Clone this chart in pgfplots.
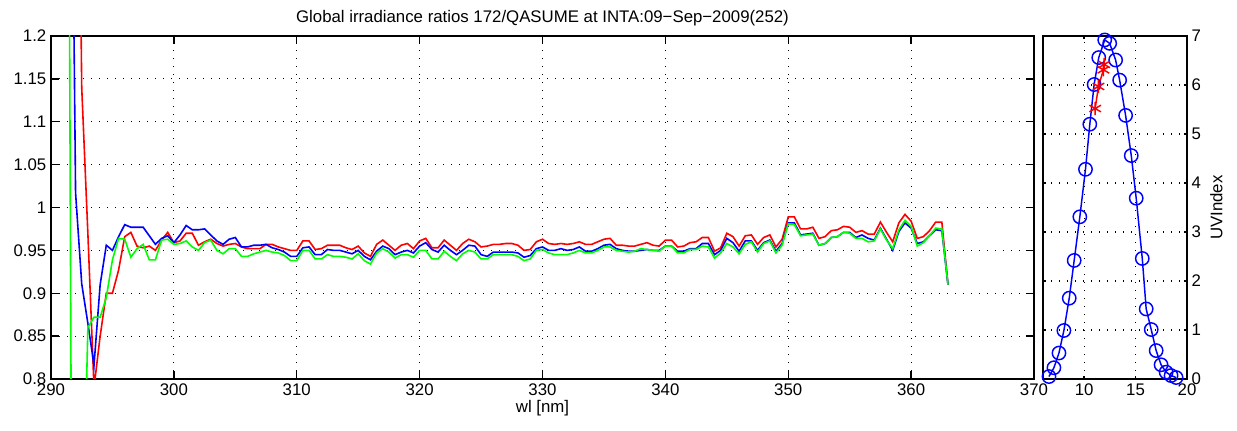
\documentclass[border=0pt]{standalone}
\usepackage{fontspec}
\setmainfont{Liberation Sans}
\usepackage{pgfplots}
\usepackage{pgfplotstable}
\pgfplotsset{compat=1.18}

\pgfplotstableread{
wl r b g
290 2.5 2.5 2.5
290.5 2.5 2.5 2.5
291 2.4 2.4 2.5
291.5 2.0 1.74 1.25
292 1.8 1.017 -0.5
292.5 1.14 0.911 0.55
293 0.97 0.865 0.86
293.5 0.79 0.816 0.872
294 0.85 0.910 0.872
294.5 0.900 0.956 0.895
295 0.900 0.950 0.939
295.5 0.927 0.966 0.964
296 0.966 0.980 0.963
296.5 0.971 0.977 0.942
297 0.955 0.977 0.952
297.5 0.953 0.977 0.957
298 0.955 0.967 0.939
298.5 0.950 0.957 0.939
299 0.962 0.964 0.962
299.5 0.971 0.967 0.963
300 0.959 0.959 0.957
300.5 0.961 0.968 0.958
301 0.970 0.979 0.961
301.5 0.970 0.974 0.954
302 0.956 0.974 0.950
302.5 0.960 0.975 0.959
303 0.963 0.968 0.962
303.5 0.958 0.961 0.950
304 0.955 0.957 0.946
304.5 0.957 0.963 0.952
305 0.958 0.965 0.952
305.5 0.954 0.954 0.943
306 0.952 0.954 0.943
306.5 0.952 0.956 0.946
307 0.952 0.956 0.948
307.5 0.957 0.957 0.950
308 0.957 0.953 0.948
308.5 0.954 0.951 0.947
309 0.952 0.948 0.944
309.5 0.950 0.943 0.938
310 0.950 0.943 0.938
310.5 0.961 0.953 0.950
311 0.961 0.954 0.950
311.5 0.951 0.945 0.940
312 0.952 0.945 0.940
312.5 0.956 0.951 0.945
313 0.956 0.950 0.943
313.5 0.956 0.950 0.943
314 0.953 0.948 0.942
314.5 0.951 0.946 0.940
315 0.955 0.950 0.946
315.5 0.947 0.943 0.938
316 0.943 0.939 0.934
316.5 0.957 0.949 0.947
317 0.962 0.955 0.952
317.5 0.956 0.952 0.948
318 0.950 0.945 0.941
318.5 0.956 0.948 0.945
319 0.958 0.950 0.945
319.5 0.952 0.947 0.942
320 0.961 0.955 0.950
320.5 0.964 0.959 0.950
321 0.953 0.951 0.940
321.5 0.953 0.948 0.940
322 0.962 0.956 0.949
322.5 0.956 0.950 0.943
323 0.950 0.945 0.938
323.5 0.958 0.950 0.946
324 0.963 0.956 0.950
324.5 0.960 0.955 0.948
325 0.954 0.945 0.940
325.5 0.955 0.943 0.940
326 0.957 0.948 0.945
326.5 0.957 0.948 0.945
327 0.958 0.948 0.945
327.5 0.958 0.948 0.945
328 0.956 0.947 0.943
328.5 0.950 0.942 0.938
329 0.951 0.944 0.940
329.5 0.960 0.952 0.950
330 0.963 0.954 0.951
330.5 0.958 0.950 0.947
331 0.957 0.950 0.945
331.5 0.958 0.952 0.945
332 0.957 0.950 0.945
332.5 0.958 0.951 0.947
333 0.960 0.954 0.950
333.5 0.957 0.949 0.947
334 0.957 0.949 0.947
334.5 0.960 0.952 0.950
335 0.963 0.956 0.954
335.5 0.964 0.957 0.954
336 0.956 0.952 0.950
336.5 0.956 0.950 0.949
337 0.955 0.949 0.948
337.5 0.955 0.949 0.949
338 0.957 0.950 0.952
338.5 0.959 0.951 0.951
339 0.956 0.950 0.950
339.5 0.955 0.950 0.949
340 0.962 0.955 0.955
340.5 0.962 0.955 0.955
341 0.954 0.949 0.947
341.5 0.955 0.949 0.947
342 0.959 0.952 0.951
342.5 0.960 0.952 0.951
343 0.965 0.958 0.955
343.5 0.965 0.958 0.954
344 0.949 0.945 0.941
344.5 0.953 0.950 0.947
345 0.970 0.964 0.958
345.5 0.966 0.959 0.954
346 0.955 0.949 0.946
346.5 0.967 0.961 0.957
347 0.968 0.961 0.960
347.5 0.957 0.950 0.948
348 0.965 0.959 0.958
348.5 0.968 0.962 0.961
349 0.954 0.949 0.947
349.5 0.963 0.958 0.956
350 0.989 0.982 0.981
350.5 0.989 0.982 0.980
351 0.975 0.968 0.967
351.5 0.975 0.969 0.968
352 0.977 0.970 0.969
352.5 0.964 0.956 0.956
353 0.966 0.958 0.958
353.5 0.973 0.965 0.965
354 0.974 0.966 0.966
354.5 0.978 0.971 0.971
355 0.977 0.971 0.970
355.5 0.971 0.965 0.964
356 0.973 0.968 0.964
356.5 0.969 0.964 0.960
357 0.969 0.962 0.961
357.5 0.983 0.976 0.975
358 0.971 0.963 0.962
358.5 0.960 0.950 0.952
359 0.982 0.972 0.974
359.5 0.992 0.982 0.985
360 0.984 0.976 0.978
360.5 0.964 0.958 0.955
361 0.966 0.960 0.959
361.5 0.973 0.967 0.967
362 0.983 0.974 0.976
362.5 0.983 0.973 0.975
363 0.910 0.910 0.910
}\ratios

\pgfplotstableread{
t uvi
6.58 0.05
7.06 0.23
7.55 0.53
8.03 0.99
8.55 1.65
9.03 2.42
9.58 3.31
10.13 4.28
10.55 5.20
10.97 6.01
11.42 6.56
12.00 6.92
12.48 6.85
13.06 6.51
13.45 6.10
14.03 5.38
14.58 4.56
15.06 3.69
15.65 2.46
16.03 1.43
16.52 1.01
17.00 0.58
17.48 0.29
17.97 0.14
18.45 0.07
18.94 0.03
}\uvq

\pgfplotstableread{
t uvi
11.07 5.52
11.39 5.97
11.87 6.31
11.95 6.42
}\uvb

\definecolor{mred}{RGB}{255,0,0}
\definecolor{mblue}{RGB}{0,0,255}
\definecolor{mgreen}{RGB}{0,255,0}

\pgfplotsset{
  mstyle/.style={
    scale only axis,
    axis line style={line width=1.1pt},
    every tick/.style={black, line width=1.1pt},
    tick align=inside,
    grid=major,
    major grid style={black, line width=0.9pt, dash pattern=on 0.9pt off 5.1pt},
    tick label style={font=\fontsize{12.6}{14.5}\selectfont},
    label style={font=\fontsize{12.6}{14.5}\selectfont},
    title style={font=\fontsize{12.6}{14.5}\selectfont},
    /pgf/number format/assume math mode=true,
    /pgf/number format/1000 sep={},
  }
}

\begin{document}
\begin{tikzpicture}
\begin{axis}[mstyle,
  at={(0pt,0pt)}, anchor=south west,
  width=737.25pt, height=257.25pt,
  xmin=290, xmax=370, ymin=0.8, ymax=1.2,
  xtick={290,300,310,320,330,340,350,360,370},
  ytick={0.8,0.85,0.9,0.95,1,1.05,1.1,1.15,1.2},
  yticklabels={0.8,0.85,0.9,0.95,1,1.05,1.1,1.15,1.2},
  major tick length=6pt,
  xlabel={wl [nm]},
  xlabel style={yshift=3pt},
  title={Global irradiance ratios 172/QASUME at INTA:09−Sep−2009(252)},
  title style={yshift=-2pt},
]
\addplot[mred, line width=1.2pt] table[x=wl, y=r] {\ratios};
\addplot[mblue, line width=1.2pt] table[x=wl, y=b] {\ratios};
\addplot[mgreen, line width=1.2pt] table[x=wl, y=g] {\ratios};
\end{axis}
\begin{axis}[mstyle,
  at={(744pt,0pt)}, anchor=south west,
  width=108pt, height=257.25pt,
  xmin=6, xmax=20, ymin=0, ymax=7,
  xtick={10,15,20},
  ytick={0,1,2,3,4,5,6,7},
  yticklabel pos=right,
  major tick length=2.5pt,
  ylabel={UVIndex},
  clip=false,
]
\addplot[mblue, line width=1.1pt, mark=o, mark size=5pt, mark options={line width=1.1pt}] table[x=t, y=uvi] {\uvq};
\addplot[mred, line width=1.1pt, mark=asterisk, mark size=5pt, mark options={line width=1.1pt}] table[x=t, y=uvi] {\uvb};
\end{axis}
\pgfresetboundingbox
\path[use as bounding box] (-38.25pt,-38.25pt) rectangle (889.5pt,284.25pt);
\end{tikzpicture}
\end{document}
